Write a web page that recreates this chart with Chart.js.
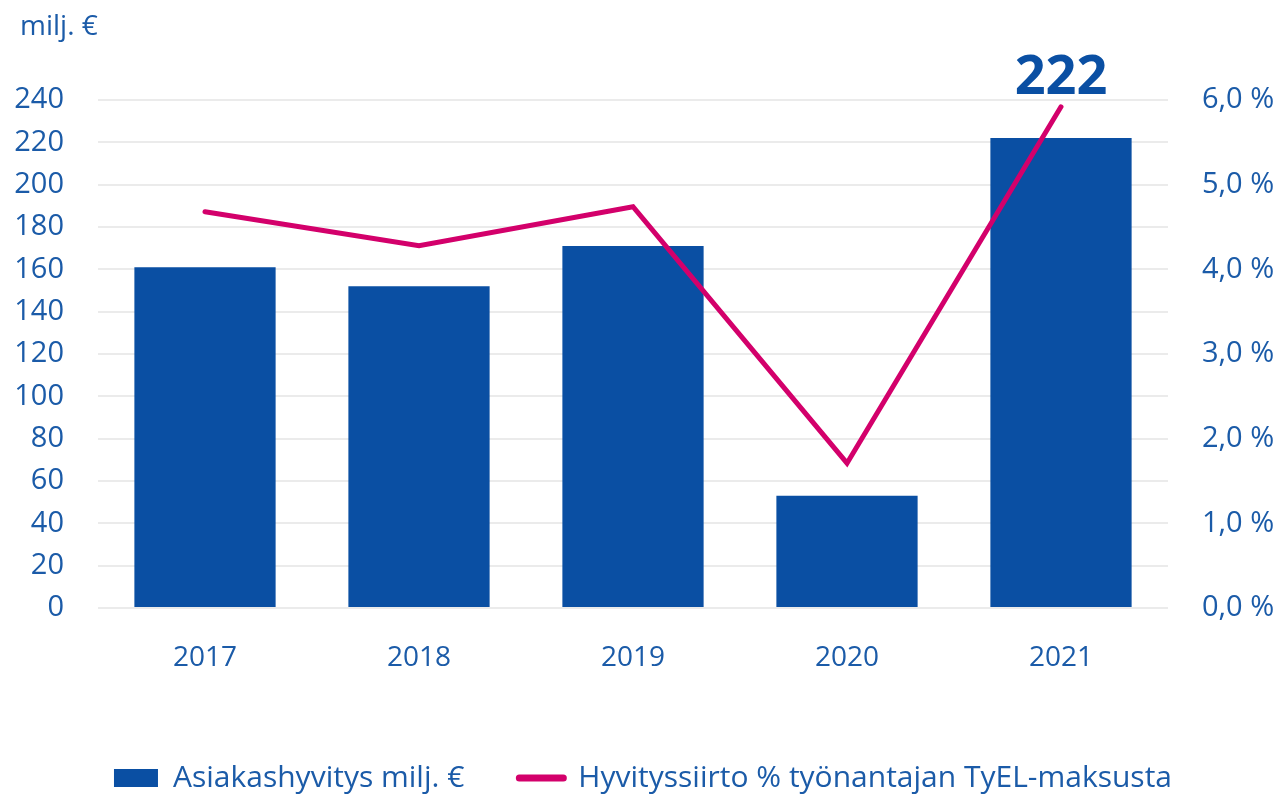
<!DOCTYPE html>
<html>
<head>
<meta charset="utf-8">
<script src="https://cdn.jsdelivr.net/npm/chart.js@4/dist/chart.umd.min.js"></script>
<style>
  html, body { margin: 0; padding: 0; background: #fff; }
  #wrap { width: 1286px; height: 794px; }
</style>
</head>
<body>
<div id="wrap"><canvas id="chart"></canvas></div>
<script>
const years = ['2017', '2018', '2019', '2020', '2021']
const hyvitys = [161, 152, 171, 53, 222]
const siirtoPct = [4.68, 4.28, 4.74, 1.71, 5.92]
const leftTicks = [0, 240, 20]
const rightTicks = [0, 6, 1]

const blue = '#0A4FA3'
const pink = '#D3006B'
const textBlue = '#1B5BA8'
const font = '"Open Sans", "Noto Sans", sans-serif'

// text drawn on top: unit title and the 2021 value
const extras = {
    id: 'extras',
    afterDatasetsDraw(chart){
        const ctx = chart.ctx
        ctx.save()
        ctx.fillStyle = textBlue
        ctx.font = '28px ' + font
        ctx.textAlign = 'left'
        ctx.textBaseline = 'middle'
        ctx.fillText('milj. €', 20, 27)

        const bar = chart.getDatasetMeta(1).data[4]
        ctx.fillStyle = blue
        ctx.font = 'bold 54px ' + font
        ctx.textAlign = 'center'
        ctx.textBaseline = 'alphabetic'
        ctx.fillText(String(hyvitys[4]), bar.x, bar.y - 44)
        ctx.restore()
    }
}

new Chart(document.getElementById('chart'), {
    type: 'bar',
    data: {
        labels: years,
        datasets: [{
            type: 'line',
            label: 'Hyvityssiirto % työnantajan TyEL-maksusta',
            data: siirtoPct,
            yAxisID: 'y1',
            borderColor: pink,
            backgroundColor: pink,
            borderWidth: 5,
            pointRadius: 0,
            pointStyle: 'line',
            tension: 0,
            borderCapStyle: 'round',
            order: 0
        }, {
            type: 'bar',
            label: 'Asiakashyvitys milj. €',
            data: hyvitys,
            yAxisID: 'y',
            backgroundColor: blue,
            pointStyle: 'rect',
            categoryPercentage: 1,
            barPercentage: 0.66,
            order: 1
        }]
    },
    options: {
        responsive: true,
        maintainAspectRatio: false,
        animation: false,
        layout: { padding: { top: 100, left: 0, right: 0, bottom: 0 } },
        plugins: {
            tooltip: { enabled: false },
            legend: {
                position: 'bottom',
                maxHeight: 86,
                labels: {
                    usePointStyle: true,
                    pointStyleWidth: 44,
                    boxHeight: 18,
                    color: textBlue,
                    font: { family: font, size: 30 },
                    padding: 55,
                    sort: (a, b) => b.datasetIndex - a.datasetIndex,
                    generateLabels(chart){
                        const items = Chart.defaults.plugins.legend.labels.generateLabels(chart)
                        items.forEach(it => {
                            if (it.pointStyle === 'line') {
                                it.lineWidth = 7
                                it.lineCap = 'round'
                            } else {
                                it.lineWidth = 0
                            }
                        })
                        return items
                    }
                }
            }
        },
        scales: {
            x: {
                grid: { display: false, drawTicks: false },
                border: { display: false },
                ticks: { color: textBlue, font: { family: font, size: 28 }, padding: 33 },
                afterFit(scale){ scale.height = 100 }
            },
            y: {
                position: 'left',
                min: leftTicks[0], max: leftTicks[1],
                ticks: { stepSize: leftTicks[2], color: textBlue, font: { family: font, size: 29 }, padding: 34 },
                grid: { color: '#EBEBEB', lineWidth: 2, drawTicks: false },
                border: { display: false },
                afterFit(scale){ scale.width = 98 }
            },
            y1: {
                position: 'right',
                min: rightTicks[0], max: rightTicks[1],
                ticks: {
                    stepSize: rightTicks[2], color: textBlue, font: { family: font, size: 29 }, padding: 34,
                    callback: v => v.toFixed(1).replace('.', ',') + ' %'
                },
                grid: { drawOnChartArea: false, drawTicks: false },
                border: { display: false },
                afterFit(scale){ scale.width = 118 }
            }
        }
    },
    plugins: [extras]
})
</script>
</body>
</html>
